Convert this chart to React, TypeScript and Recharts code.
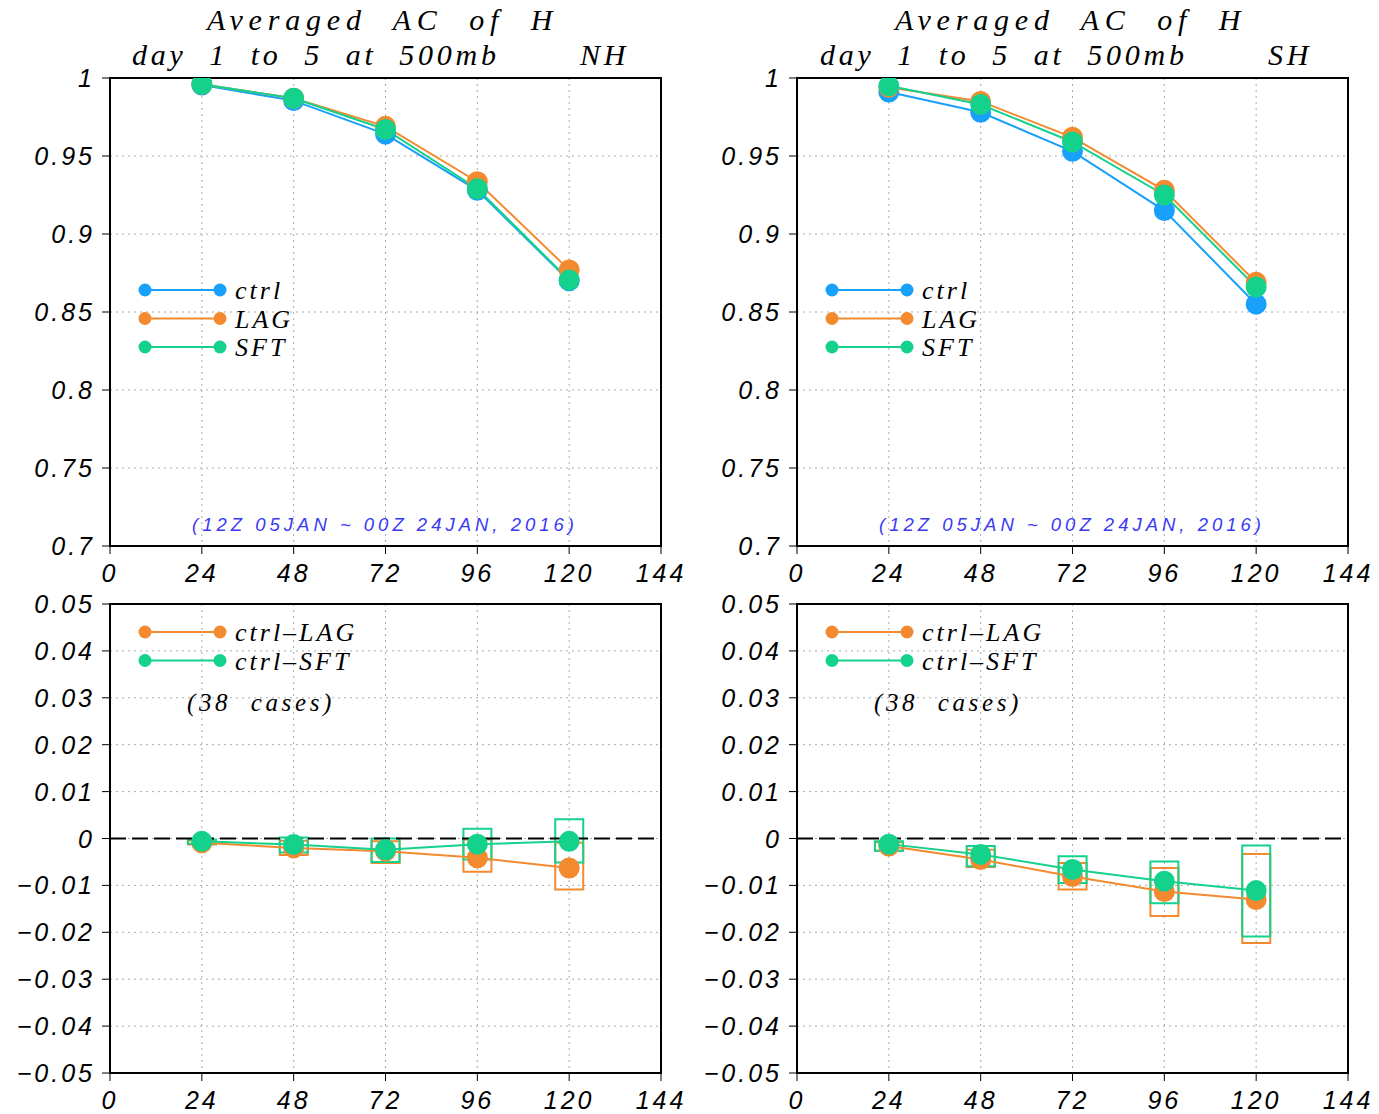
import {
  ComposedChart, Line, Bar, XAxis, YAxis, CartesianGrid, ReferenceLine, ReferenceArea,
} from 'recharts'

const leadHours = [24, 48, 72, 96, 120]
const xTicks = [0, 24, 48, 72, 96, 120, 144]
const acTicks = [0.7, 0.75, 0.8, 0.85, 0.9, 0.95, 1]
const diffTicks = [-0.05, -0.04, -0.03, -0.02, -0.01, 0, 0.01, 0.02, 0.03, 0.04, 0.05]

// anomaly correlation, NH
const nhCtrl = [0.9955, 0.9855, 0.964, 0.928, 0.870]
const nhLag  = [0.996, 0.987, 0.969, 0.9335, 0.877]
const nhSft  = [0.996, 0.987, 0.967, 0.929, 0.8705]
// anomaly correlation, SH
const shCtrl = [0.991, 0.978, 0.953, 0.915, 0.855]
const shLag  = [0.994, 0.985, 0.962, 0.928, 0.869]
const shSft  = [0.995, 0.983, 0.959, 0.925, 0.866]

// differences + confidence boxes, NH
const nhDiffLag = [-0.0009, -0.002, -0.0027, -0.0041, -0.0063]
const nhDiffSft = [-0.0006, -0.0013, -0.0024, -0.0012, -0.0006]
const nhLagLo = [-0.0013, -0.0035, -0.0052, -0.0071, -0.0109]
const nhLagHi = [-0.0004, -0.0005, -0.0006, -0.0002, -0.0009]
const nhSftLo = [-0.0011, -0.003, -0.005, -0.0045, -0.0051]
const nhSftHi = [-0.0002, 0.0002, 0.0, 0.0021, 0.0041]
// differences + confidence boxes, SH
const shDiffLag = [-0.0016, -0.0045, -0.0081, -0.0113, -0.013]
const shDiffSft = [-0.0012, -0.0034, -0.0066, -0.0091, -0.0111]
const shLagLo = [-0.0026, -0.0061, -0.0109, -0.0165, -0.0223]
const shLagHi = [-0.0008, -0.0024, -0.0052, -0.0063, -0.0033]
const shSftLo = [-0.0026, -0.0059, -0.0095, -0.0138, -0.0209]
const shSftHi = [-0.0006, -0.0016, -0.0038, -0.0049, -0.0015]

const BLUE = '#18a0fb'
const ORANGE = '#f48a2f'
const GREEN = '#14d18c'
const NOTE = '#3a3af5'

const TICK_FONT = '"Liberation Sans", sans-serif'
const TEXT_FONT = '"Liberation Serif", serif'

function fmtTick(v: number) {
  const s = String(Number(v.toFixed(2)))
  return s.replace('-', '\u2212')
}

function YTick({ x, y, payload }: any) {
  return (
    <text x={x - 5} y={y} dy={9} textAnchor="end" fontFamily={TICK_FONT} fontStyle="italic"
      fontSize={25} fill="#000" style={{ letterSpacing: 3 }}>
      {fmtTick(payload.value)}
    </text>
  )
}

function XTick({ x, y, payload }: any) {
  return (
    <text x={x} y={y} dy={26} textAnchor="middle" fontFamily={TICK_FONT} fontStyle="italic"
      fontSize={25} fill="#000" style={{ letterSpacing: 3 }}>
      {payload.value}
    </text>
  )
}

function Title({ left, region }: { left: number; region: string }) {
  const base: any = {
    position: 'absolute', fontFamily: TEXT_FONT, fontStyle: 'italic', fontSize: 30,
    whiteSpace: 'pre', lineHeight: 1, color: '#000',
  }
  return (
    <>
      <div style={{ ...base, left: left + 207, top: 5, letterSpacing: 5.8 }}>Averaged  AC  of  H</div>
      <div style={{ ...base, left: left + 132, top: 40, letterSpacing: 3.8 }}>day  1  to  5  at  500mb</div>
      <div style={{ ...base, left: left + 580, top: 40, letterSpacing: 3.8 }}>{region}</div>
    </>
  )
}

function LegendRows({ left, top, items }: { left: number; top: number; items: { label: string; color: string }[] }) {
  return (
    <svg style={{ position: 'absolute', left, top, overflow: 'visible' }} width={220} height={items.length * 29}>
      {items.map((it, i) => (
        <g key={it.label}>
          <line x1={0} x2={75} y1={i * 28.5} y2={i * 28.5} stroke={it.color} strokeWidth={2} />
          <circle cx={0} cy={i * 28.5} r={6.5} fill={it.color} />
          <circle cx={75} cy={i * 28.5} r={6.5} fill={it.color} />
          <text x={90} y={i * 28.5 + 9} fontFamily={TEXT_FONT} fontStyle="italic" fontSize={26}
            fill="#000" style={{ letterSpacing: 3 }}>{it.label}</text>
        </g>
      ))}
    </svg>
  )
}

function AcPanel({ left, ctrl, lag, sft }: { left: number; ctrl: number[]; lag: number[]; sft: number[] }) {
  const data = leadHours.map((h, i) => ({ h, ctrl: ctrl[i], lag: lag[i], sft: sft[i] }))
  return (
    <div style={{ position: 'absolute', left, top: 60 }}>
      <ComposedChart width={691} height={526} data={data} margin={{ top: 18, right: 30, left: 0, bottom: 0 }}>
        <CartesianGrid stroke="#aaa" strokeDasharray="2 4" />
        <XAxis dataKey="h" type="number" domain={[0, 144]} ticks={xTicks} height={40}
          axisLine={{ stroke: '#000', strokeWidth: 2 }} tickLine={{ stroke: '#000' }} tickSize={8} tick={<XTick />} />
        <YAxis type="number" domain={[0.7, 1]} ticks={acTicks} width={110} allowDataOverflow
          axisLine={{ stroke: '#000', strokeWidth: 2 }} tickLine={{ stroke: '#000' }} tickSize={8} tick={<YTick />} />
        <ReferenceArea x1={0} x2={144} y1={0.7} y2={1} fill="none" stroke="#000" strokeWidth={2} ifOverflow="visible" />
        <Line dataKey="ctrl" stroke={BLUE} strokeWidth={2} dot={{ r: 9.5, fill: BLUE, stroke: BLUE }}
          activeDot={false} isAnimationActive={false} />
        <Line dataKey="lag" stroke={ORANGE} strokeWidth={2} dot={{ r: 9.5, fill: ORANGE, stroke: ORANGE }}
          activeDot={false} isAnimationActive={false} />
        <Line dataKey="sft" stroke={GREEN} strokeWidth={2} dot={{ r: 9.5, fill: GREEN, stroke: GREEN }}
          activeDot={false} isAnimationActive={false} />
      </ComposedChart>
      <LegendRows left={145} top={230} items={[
        { label: 'ctrl', color: BLUE }, { label: 'LAG', color: ORANGE }, { label: 'SFT', color: GREEN },
      ]} />
      <div style={{
        position: 'absolute', left: 110, width: 550, top: 454, textAlign: 'center', fontFamily: TICK_FONT,
        fontStyle: 'italic', fontSize: 18.5, letterSpacing: 4, color: NOTE, whiteSpace: 'pre',
      }}>(12Z 05JAN ~ 00Z 24JAN, 2016)</div>
    </div>
  )
}

function DiffPanel(props: {
  left: number; lag: number[]; sft: number[]
  lagLo: number[]; lagHi: number[]; sftLo: number[]; sftHi: number[]
}) {
  const { left, lag, sft, lagLo, lagHi, sftLo, sftHi } = props
  const data = leadHours.map((h, i) => ({
    h, lag: lag[i], sft: sft[i], lagBox: [lagLo[i], lagHi[i]], sftBox: [sftLo[i], sftHi[i]],
  }))
  return (
    <div style={{ position: 'absolute', left, top: 586 }}>
      <ComposedChart width={691} height={527} data={data} margin={{ top: 18, right: 30, left: 0, bottom: 0 }}>
        <CartesianGrid stroke="#aaa" strokeDasharray="2 4" />
        <XAxis dataKey="h" type="number" domain={[0, 144]} ticks={xTicks} height={40}
          axisLine={{ stroke: '#000', strokeWidth: 2 }} tickLine={{ stroke: '#000' }} tickSize={8} tick={<XTick />} />
        <XAxis xAxisId="b" dataKey="h" type="number" domain={[0, 144]} hide />
        <YAxis type="number" domain={[-0.05, 0.05]} ticks={diffTicks} width={110} allowDataOverflow
          axisLine={{ stroke: '#000', strokeWidth: 2 }} tickLine={{ stroke: '#000' }} tickSize={8} tick={<YTick />} />
        <ReferenceArea x1={0} x2={144} y1={-0.05} y2={0.05} fill="none" stroke="#000" strokeWidth={2} ifOverflow="visible" />
        <ReferenceLine y={0} stroke="#000" strokeWidth={2} strokeDasharray="16 6" />
        <Bar dataKey="lagBox" barSize={28} fill="none" stroke={ORANGE} strokeWidth={2} isAnimationActive={false} />
        <Bar xAxisId="b" dataKey="sftBox" barSize={28} fill="none" stroke={GREEN} strokeWidth={2} isAnimationActive={false} />
        <Line dataKey="lag" stroke={ORANGE} strokeWidth={2} dot={{ r: 9.5, fill: ORANGE, stroke: ORANGE }}
          activeDot={false} isAnimationActive={false} />
        <Line dataKey="sft" stroke={GREEN} strokeWidth={2} dot={{ r: 9.5, fill: GREEN, stroke: GREEN }}
          activeDot={false} isAnimationActive={false} />
      </ComposedChart>
      <LegendRows left={145} top={46} items={[
        { label: 'ctrl\u2013LAG', color: ORANGE }, { label: 'ctrl\u2013SFT', color: GREEN },
      ]} />
      <div style={{
        position: 'absolute', left: 187, top: 103, fontFamily: TEXT_FONT, fontStyle: 'italic',
        fontSize: 25, letterSpacing: 3.6, whiteSpace: 'pre', color: '#000',
      }}>(38  cases)</div>
    </div>
  )
}

export default function App() {
  return (
    <div style={{ position: 'absolute', left: 0, top: 0, width: 1379, height: 1114, background: '#fff' }}>
      <Title left={0} region="NH" />
      <Title left={688} region="SH" />
      <AcPanel left={0} ctrl={nhCtrl} lag={nhLag} sft={nhSft} />
      <AcPanel left={687} ctrl={shCtrl} lag={shLag} sft={shSft} />
      <DiffPanel left={0} lag={nhDiffLag} sft={nhDiffSft}
        lagLo={nhLagLo} lagHi={nhLagHi} sftLo={nhSftLo} sftHi={nhSftHi} />
      <DiffPanel left={687} lag={shDiffLag} sft={shDiffSft}
        lagLo={shLagLo} lagHi={shLagHi} sftLo={shSftLo} sftHi={shSftHi} />
    </div>
  )
}
